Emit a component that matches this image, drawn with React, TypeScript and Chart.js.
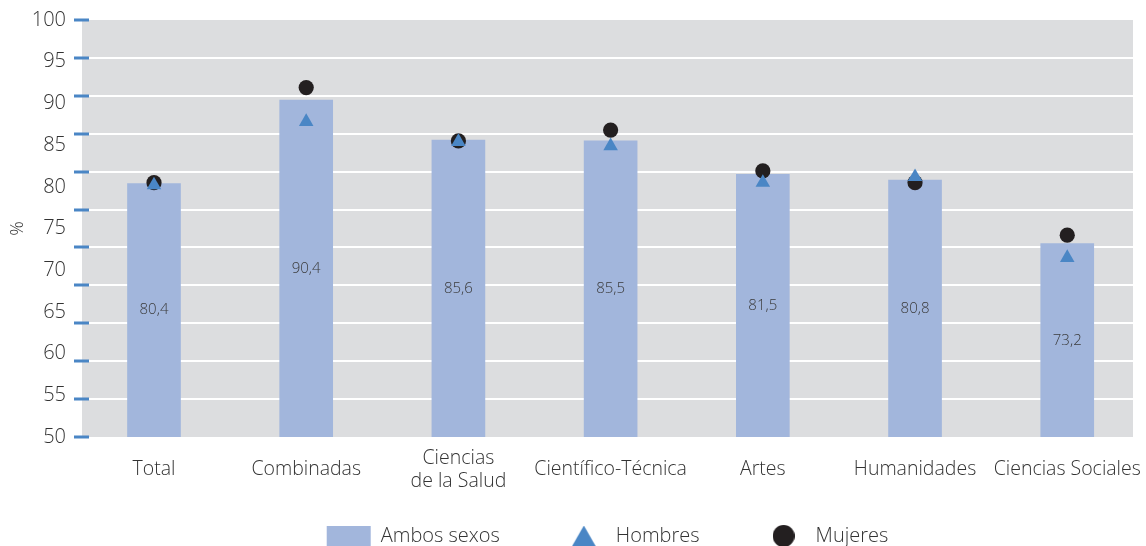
import React, { useEffect, useRef } from 'react';
import { Chart, registerables } from 'chart.js';

Chart.register(...registerables);

const categories = ['Total', 'Combinadas', 'Ciencias\nde la Salud', 'Científico-Técnica', 'Artes', 'Humanidades', 'Ciencias Sociales'];
const ambosSexos = [80.4, 90.4, 85.6, 85.5, 81.5, 80.8, 73.2];
const hombres = [80.2, 87.8, 85.4, 84.9, 80.5, 81.2, 71.5];
const mujeres = [80.5, 91.9, 85.5, 86.8, 81.9, 80.5, 74.2];
const seriesNames = ['Ambos sexos', 'Hombres', 'Mujeres'];
const yMin = 50;
const yMax = 100;
const yStep = 5;
const gridSteps = 11;

const FONT = "'Open Sans', 'Noto Sans', sans-serif";
const TEXT = '#333333';
const BAR = '#a2b6dc';
const BLUE = '#4a86c5';
const BLACK = '#231f20';
const BG = '#dcdddf';

function makeTriangle(w: number, h: number, color: string) {
  const c = document.createElement('canvas');
  c.width = w;
  c.height = h;
  const ctx = c.getContext('2d')!;
  ctx.fillStyle = color;
  ctx.beginPath();
  ctx.moveTo(w / 2, 0);
  ctx.lineTo(w, h);
  ctx.lineTo(0, h);
  ctx.closePath();
  ctx.fill();
  return c;
}

function makeCircle(d: number, color: string) {
  const c = document.createElement('canvas');
  c.width = d;
  c.height = d;
  const ctx = c.getContext('2d')!;
  ctx.fillStyle = color;
  ctx.beginPath();
  ctx.arc(d / 2, d / 2, d / 2, 0, Math.PI * 2);
  ctx.fill();
  return c;
}

export default function App() {
  const ref = useRef<HTMLCanvasElement | null>(null);

  useEffect(() => {
    if (!ref.current) return;
    const triImg = makeTriangle(24, 21, BLUE);
    const circImg = makeCircle(22, BLACK);

    const bgPlugin = {
      id: 'bgPlugin',
      beforeDraw(chart: any) {
        const { ctx, chartArea } = chart;
        ctx.save();
        ctx.fillStyle = BG;
        ctx.fillRect(chartArea.left, chartArea.top, chartArea.right - chartArea.left, chartArea.bottom - chartArea.top);
        ctx.restore();
      },
      afterLayout(chart: any) {
        const l = chart.legend;
        if (l) {
          l.left += 41;
          l.right += 41;
          l.top = 464;
          l.bottom = 546;
          l.height = 82;
        }
      },
      afterDraw(chart: any) {
        const { ctx } = chart;
        const s = chart.scales.y2;
        ctx.save();
        ctx.fillStyle = BLUE;
        for (let i = 0; i <= gridSteps; i++) {
          const y = s.getPixelForValue(i);
          ctx.fillRect(chart.chartArea.left - 8, Math.round(y) - 1.5, 15, 3);
        }
        ctx.restore();
      },
      afterDatasetsDraw(chart: any) {
        const { ctx, chartArea } = chart;
        const meta = chart.getDatasetMeta(2);
        ctx.save();
        ctx.font = `300 15px ${FONT}`;
        ctx.fillStyle = '#3a3a3a';
        ctx.textAlign = 'center';
        ctx.textBaseline = 'middle';
        meta.data.forEach((el: any, i: number) => {
          const txt = ambosSexos[i].toFixed(1).replace('.', ',');
          const base = Math.min(el.base, chartArea.bottom);
          ctx.fillText(txt, el.x, (el.y + base) / 2);
        });
        ctx.restore();
      },
    };

    const chart = new Chart(ref.current, {
      type: 'bar',
      data: {
        labels: categories.map((_, i) => i),
        datasets: [
          {
            type: 'line',
            label: seriesNames[1],
            data: hombres,
            showLine: false,
            pointStyle: 'triangle',
            pointRadius: 8.4,
            pointHoverRadius: 8.4,
            pointBackgroundColor: BLUE,
            pointBorderWidth: 0,
            borderColor: BLUE,
            order: 0,
          } as any,
          {
            type: 'line',
            label: seriesNames[2],
            data: mujeres,
            showLine: false,
            pointStyle: 'circle',
            pointRadius: 7.6,
            pointHoverRadius: 7.6,
            pointBackgroundColor: BLACK,
            pointBorderWidth: 0,
            borderColor: BLACK,
            order: 1,
          } as any,
          {
            type: 'bar',
            label: seriesNames[0],
            data: ambosSexos,
            backgroundColor: BAR,
            borderWidth: 0,
            barThickness: 53,
            order: 2,
          } as any,
        ],
      },
      options: {
        responsive: false,
        animation: false,
        devicePixelRatio: 1,
        layout: { autoPadding: false, padding: { top: 20, left: 0, right: 13, bottom: 0 } },
        plugins: {
          tooltip: { enabled: false },
          legend: {
            position: 'bottom',
            maxHeight: 49,
            labels: {
              usePointStyle: true,
              pointStyleWidth: 44,
              boxHeight: 20,
              padding: 62,
              color: TEXT,
              font: { family: FONT, size: 20, weight: '300' as any },
              generateLabels: () => [
                { text: seriesNames[0], pointStyle: 'rect', fillStyle: BAR, strokeStyle: BAR, lineWidth: 0, fontColor: TEXT, datasetIndex: 2 },
                { text: seriesNames[1], pointStyle: triImg, fillStyle: BLUE, strokeStyle: BLUE, lineWidth: 0, fontColor: TEXT, datasetIndex: 0 },
                { text: seriesNames[2], pointStyle: circImg, fillStyle: BLACK, strokeStyle: BLACK, lineWidth: 0, fontColor: TEXT, datasetIndex: 1 },
              ] as any,
            },
          },
        },
        scales: {
          x: {
            type: 'linear',
            offset: false,
            min: -0.473,
            max: 6.432,
            grid: { display: false, drawTicks: true, tickLength: 21, offset: false },
            border: { display: false },
            afterBuildTicks: (scale: any) => {
              scale.ticks = categories.map((_, i) => ({ value: i }));
            },
            afterFit: (scale: any) => {
              scale.height = 60;
            },
            ticks: {
              autoSkip: false,
              maxRotation: 0,
              padding: 0,
              crossAlign: 'center',
              color: TEXT,
              font: { family: FONT, size: 19.5, weight: '300' as any, lineHeight: 1.2 },
              callback: (v: any) => {
                const s = categories[Math.round(Number(v))];
                return s ? s.split('\n') : '';
              },
            },
          },
          y: {
            type: 'linear',
            position: 'left',
            min: yMin,
            max: yMax,
            grid: { display: false, drawTicks: true, tickLength: 16 },
            border: { display: false },
            afterFit: (scale: any) => {
              scale.width = 82;
            },
            title: {
              display: true,
              text: '%',
              color: TEXT,
              font: { family: FONT, size: 18, weight: '300' as any },
              padding: { top: 7, bottom: 0 },
            },
            ticks: {
              stepSize: yStep,
              padding: 0,
              color: TEXT,
              font: { family: FONT, size: 20, weight: '300' as any },
            },
          },
          y2: {
            type: 'linear',
            position: 'left',
            min: 0,
            max: gridSteps,
            afterFit: (scale: any) => {
              scale.width = 0;
            },
            border: { display: false },
            grid: {
              drawTicks: false,
              lineWidth: 2,
              color: (c: any) => (c.tick && (c.tick.value === 0 || c.tick.value === gridSteps) ? 'rgba(0,0,0,0)' : '#ffffff'),
            },
            ticks: { display: false, stepSize: 1, padding: 0 },
          },
        },
      } as any,
      plugins: [bgPlugin],
    });
    return () => chart.destroy();
  }, []);

  return (
    <div style={{ position: 'absolute', left: 0, top: 0, width: 1146, height: 546 }}>
      <canvas ref={ref} width={1146} height={546} style={{ width: 1146, height: 546 }} />
    </div>
  );
}
